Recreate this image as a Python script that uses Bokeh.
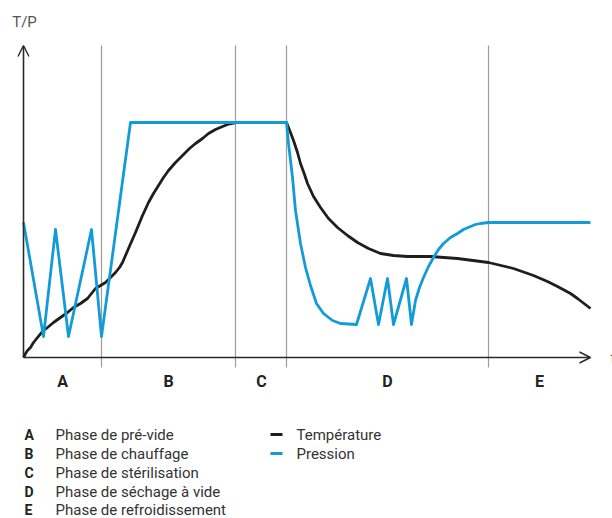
from bokeh.plotting import figure
from bokeh.models import Range1d, Arrow, OpenHead
from bokeh.core.properties import value
from bokeh.embed import file_html
from bokeh.resources import INLINE

# ---- data (t = time units, v = value units) ----
temp_t = [0, 2, 4, 7, 10, 14, 19, 24, 30, 37, 44, 50, 57, 64, 72, 77, 82, 87, 92,
          96, 99, 102, 105, 112, 119, 125, 130, 135, 140, 145, 152, 159, 166, 172,
          179, 185, 192, 199, 204, 209, 214, 219, 263, 265, 267, 270, 274, 277, 281,
          284, 290, 297, 305, 314, 324, 334, 345, 357, 370, 384, 407, 434, 465, 490,
          510, 524, 534, 547, 554, 567]
temp_v = [0, 4, 7, 10, 15, 20, 26, 30, 35, 40, 45, 50, 54, 59, 69, 72, 75, 80, 85,
          90, 95, 102, 109, 125, 142, 155, 164, 172, 180, 187, 195, 202, 209, 214,
          219, 224, 228, 231, 233, 234, 235, 235, 235, 230, 225, 217, 205, 194, 183,
          174, 161, 150, 139, 130, 122, 115, 109, 104, 102, 101, 101, 99, 95, 89,
          82, 76, 71, 64, 59, 49]

pres_t = [0, 20, 32, 45, 68, 78, 107, 263, 265, 267, 269, 272, 277, 282, 287, 293,
          300, 309, 317, 333, 347, 355, 364, 370, 383, 388, 390, 392, 396, 400, 405,
          410, 415, 420, 427, 434, 440, 447, 452, 457, 465, 567]
pres_v = [135, 21, 128, 21, 128, 21, 235, 235, 214, 197, 180, 147, 114, 90, 72, 54,
          44, 37, 34, 33, 79, 33, 79, 33, 79, 33, 45, 57, 70, 80, 91, 100, 108, 114,
          120, 124, 128, 131, 133, 134, 135, 135]

phase_bounds = [78, 212, 263, 465]
phase_letters = ["A", "B", "C", "D", "E"]
phase_centers = [39, 145, 238, 364, 516]
phase_names = ["Phase de pré-vide", "Phase de chauffage", "Phase de stérilisation",
               "Phase de séchage à vide", "Phase de refroidissement"]
series_names = ["Température", "Pression"]
series_colors = ["#1e1e1e", "#129bd8"]

T_MAX = 567
V_MAX = 312

p = figure(width=612, height=518, output_backend="svg", toolbar_location=None,
           x_range=Range1d(-23, 589), y_range=Range1d(-161, 357),
           min_border=0, outline_line_color=None)
p.axis.visible = False
p.grid.visible = False

# phase separators
for b in phase_bounds:
    p.segment(x0=b, y0=-10, x1=b, y1=V_MAX, line_color="#9c9c9c", line_width=1.2)

# curves
p.line(temp_t, temp_v, line_color=series_colors[0], line_width=2.8, line_join="round")
p.line(pres_t, pres_v, line_color=series_colors[1], line_width=2.8, line_join="round")

# axes with open arrow heads
p.add_layout(Arrow(end=OpenHead(size=11, line_color="#2a2a2a", line_width=1.4),
                   x_start=0, y_start=0, x_end=0, y_end=V_MAX,
                   line_color="#2a2a2a", line_width=1.6))
p.add_layout(Arrow(end=OpenHead(size=11, line_color="#2a2a2a", line_width=1.4),
                   x_start=0, y_start=0, x_end=T_MAX, y_end=0,
                   line_color="#2a2a2a", line_width=1.6))

p.text(x=[1], y=[336], text=["T/P"], text_font=value("Roboto"), text_font_size="15px",
       text_color="#555555", text_align="center", text_baseline="middle")
p.text(x=[587], y=[0], text=["t"], text_font=value("Roboto"), text_font_size="15px",
       text_color="#555555", text_align="left", text_baseline="middle")

# phase letters under axis
p.text(x=phase_centers, y=[-24] * 5, text=phase_letters, text_font=value("Roboto"),
       text_font_size="16px", text_font_style="bold", text_color="#222222",
       text_align="center", text_baseline="middle")

# legend (phases)
rows = [-77, -96, -115, -134, -152]
p.text(x=[1] * 5, y=rows, text=phase_letters, text_font=value("Roboto"),
       text_font_size="14px", text_font_style="bold", text_color="#222222",
       text_align="left", text_baseline="middle")
p.text(x=[32] * 5, y=rows, text=phase_names, text_font=value("Roboto"),
       text_font_size="15px", text_color="#333333",
       text_align="left", text_baseline="middle")

# legend (series)
p.segment(x0=[247, 247], y0=rows[:2], x1=[259, 259], y1=rows[:2],
          line_color=series_colors, line_width=3)
p.text(x=[273, 273], y=rows[:2], text=series_names, text_font=value("Roboto"),
       text_font_size="15px", text_color="#333333",
       text_align="left", text_baseline="middle")

open("out.html", "w").write(file_html(p, INLINE))
